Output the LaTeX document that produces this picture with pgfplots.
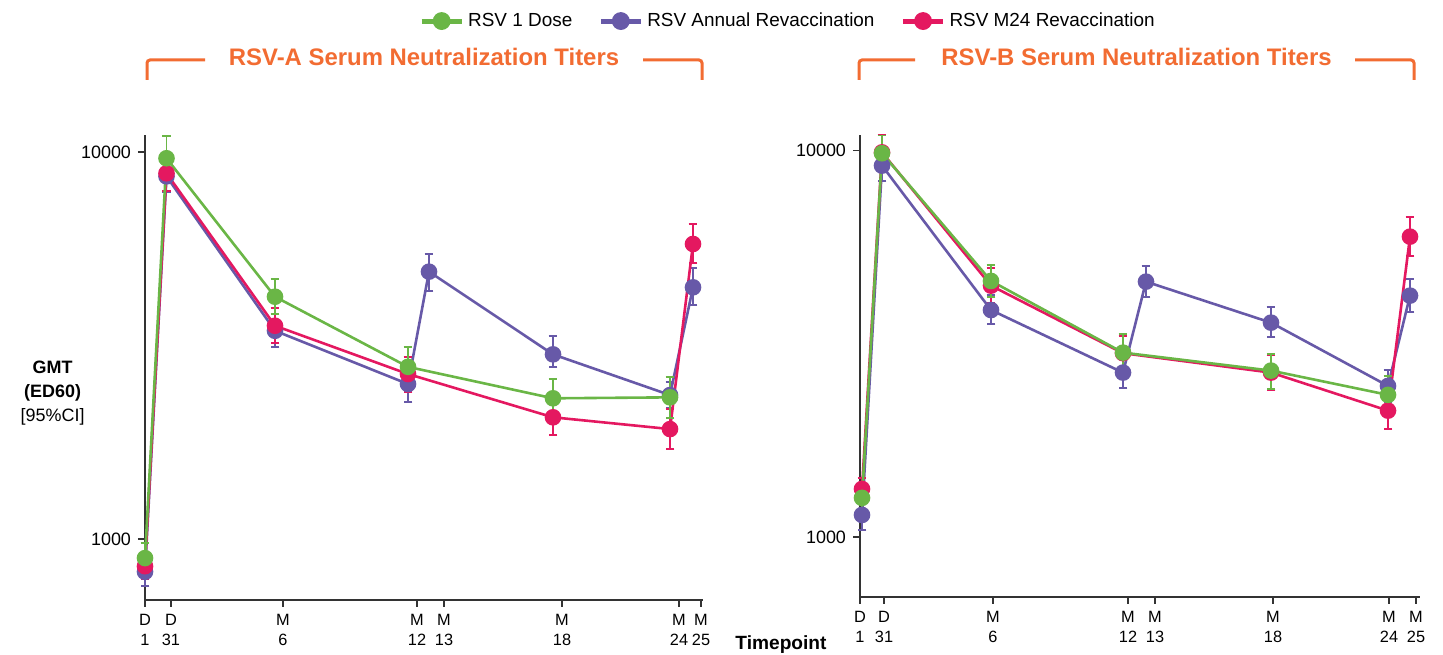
\documentclass[border=0pt]{standalone}
\usepackage{pgfplots}
\usepackage{pgfplotstable}
\pgfplotsset{compat=1.18}
\usepackage{fontspec}
\setmainfont{Liberation Sans}
\definecolor{gr}{HTML}{6AB646}
\definecolor{pu}{HTML}{6759A8}
\definecolor{rd}{HTML}{E41860}
\definecolor{orng}{HTML}{F26C32}
\definecolor{axc}{HTML}{333333}

\pgfplotstableread{
x y ep em
0 893 84 86
21.5 9632 1367 1197
130 4227 463 417
263 2785 343 305
408 2310 281 250
525 2323 304 268
}\lgreen
\pgfplotstableread{
x y ep em
0 823 73 67
21.5 8650 850 750
130 3452 358 324
263 2515 279 251
284 4906 545 525
408 3000 346 220
525 2355 190 175
548 4470 536 446
}\lpurple
\pgfplotstableread{
x y ep em
0 851 66 61
21.5 8810 980 884
130 3557 388 341
263 2669 289 276
408 2063 227 206
525 1924 246 218
548 5785 731 628
}\lred
\pgfplotstableread{
x y ep em
2 1262 88 82
22 9847 1093 987
131 4599 460 419
263 3000 354 320
411 2695 277 283
528 2332 279 252
}\rgreen
\pgfplotstableread{
x y ep em
2 1140 107 98
22 9146 854 784
131 3868 359 315
263 2663 249 228
286 4580 450 406
411 3587 345 298
528 2460 246 224
550 4214 431 384
}\rpurple
\pgfplotstableread{
x y ep em
2 1331 89 81
22 9900 1060 950
131 4472 490 430
263 2990 321 290
411 2663 287 261
528 2123 249 223
550 5989 733 650
}\rred

\begin{document}
\begin{tikzpicture}
\path[use as bounding box] (0,0) rectangle (721.5bp,327.5bp);

\begin{axis}[at={(72.5bp,27.5bp)}, anchor=south west,
  scale only axis, width=279bp, height=232.5bp,
  ymode=log, xmin=0, xmax=558, ymin=696, ymax=11063,
  axis x line=bottom, axis y line=left, axis line style={-, draw=axc, line width=0.8bp},
  ytick={1000,10000}, yticklabels={1000,10000}, minor tick length=0pt,
  major tick style={draw=axc, line width=0.8bp}, tick align=outside, major tick length=3.5bp,
  yticklabel style={font=\fontsize{9}{10}\selectfont},
  xticklabel style={font=\fontsize{8.2}{10.2}\selectfont, align=center},
  xtick={0,26,138,272,299,417,534,556},
  xticklabels={{D\\1},{D\\31},{M\\6},{M\\12},{M\\13},{M\\18},{M\\24},{M\\25}},
  clip=false,
  legend columns=3,
  legend image code/.code={\draw[mark repeat=2,mark phase=2,#1] plot coordinates {(0bp,0bp) (10bp,0bp) (20bp,0bp)};},
  legend style={at={(1.154,1.245)}, anchor=center, draw=none, fill=none,
    font=\fontsize{9.5}{11}\selectfont,
    /tikz/every even column/.append style={column sep=11bp}},
]
\addplot[color=pu, line width=1.3bp, mark=*, mark size=3.5bp, forget plot,
  error bars/.cd, y dir=both, y explicit,
  error bar style={line width=0.9bp}, error mark options={rotate=90,mark size=2.2bp,line width=0.9bp}]
  table[x=x,y=y,y error plus=ep,y error minus=em] {\lpurple};
\addplot[color=rd, line width=1.3bp, mark=*, mark size=3.5bp, forget plot,
  error bars/.cd, y dir=both, y explicit,
  error bar style={line width=0.9bp}, error mark options={rotate=90,mark size=2.2bp,line width=0.9bp}]
  table[x=x,y=y,y error plus=ep,y error minus=em] {\lred};
\addplot[color=gr, line width=1.3bp, mark=*, mark size=3.5bp, forget plot,
  error bars/.cd, y dir=both, y explicit,
  error bar style={line width=0.9bp}, error mark options={rotate=90,mark size=2.2bp,line width=0.9bp}]
  table[x=x,y=y,y error plus=ep,y error minus=em] {\lgreen};
\addlegendimage{color=gr, line width=2.5bp, mark=*, mark size=3.2bp}
\addlegendentry{RSV 1 Dose}
\addlegendimage{color=pu, line width=2.5bp, mark=*, mark size=3.2bp}
\addlegendentry{RSV Annual Revaccination}
\addlegendimage{color=rd, line width=2.5bp, mark=*, mark size=3.2bp}
\addlegendentry{RSV M24 Revaccination}
\end{axis}

\begin{axis}[at={(430bp,29bp)}, anchor=south west,
  scale only axis, width=280bp, height=231bp,
  ymode=log, xmin=0, xmax=560, ymin=699, ymax=10980,
  axis x line=bottom, axis y line=left, axis line style={-, draw=axc, line width=0.8bp},
  ytick={1000,10000}, yticklabels={1000,10000}, minor tick length=0pt,
  major tick style={draw=axc, line width=0.8bp}, tick align=outside, major tick length=3.5bp,
  yticklabel style={font=\fontsize{9}{10}\selectfont},
  xticklabel style={font=\fontsize{8.2}{10.2}\selectfont, align=center},
  xtick={0,24,133,268,295,413,529,556},
  xticklabels={{D\\1},{D\\31},{M\\6},{M\\12},{M\\13},{M\\18},{M\\24},{M\\25}},
  clip=false,
]
\addplot[color=pu, line width=1.3bp, mark=*, mark size=3.5bp,
  error bars/.cd, y dir=both, y explicit,
  error bar style={line width=0.9bp}, error mark options={rotate=90,mark size=2.2bp,line width=0.9bp}]
  table[x=x,y=y,y error plus=ep,y error minus=em] {\rpurple};
\addplot[color=rd, line width=1.3bp, mark=*, mark size=3.5bp,
  error bars/.cd, y dir=both, y explicit,
  error bar style={line width=0.9bp}, error mark options={rotate=90,mark size=2.2bp,line width=0.9bp}]
  table[x=x,y=y,y error plus=ep,y error minus=em] {\rred};
\addplot[color=gr, line width=1.3bp, mark=*, mark size=3.5bp,
  error bars/.cd, y dir=both, y explicit,
  error bar style={line width=0.9bp}, error mark options={rotate=90,mark size=2.2bp,line width=0.9bp}]
  table[x=x,y=y,y error plus=ep,y error minus=em] {\rgreen};
\end{axis}

\node[align=center, font=\fontsize{9}{12}\selectfont] at (26.3bp,131bp)
  {\textbf{GMT}\\\textbf{(ED60)}\\{[}95\%CI{]}};
\node[font=\bfseries\fontsize{9.6}{11}\selectfont] at (390.5bp,5bp) {Timepoint};

\node[font=\bfseries\fontsize{12}{14}\selectfont, text=orng] at (212bp,299bp) {RSV-A Serum Neutralization Titers};
\node[font=\bfseries\fontsize{12}{14}\selectfont, text=orng] at (568.25bp,299bp) {RSV-B Serum Neutralization Titers};
\draw[orng, line width=1.5bp, rounded corners=1.5bp] (73.5bp,287.5bp) -- (73.5bp,297.5bp) -- (102.5bp,297.5bp);
\draw[orng, line width=1.5bp, rounded corners=1.5bp] (321.5bp,297.5bp) -- (351bp,297.5bp) -- (351bp,287.5bp);
\draw[orng, line width=1.5bp, rounded corners=1.5bp] (429.5bp,287.5bp) -- (429.5bp,297.5bp) -- (457.5bp,297.5bp);
\draw[orng, line width=1.5bp, rounded corners=1.5bp] (677.5bp,297.5bp) -- (707bp,297.5bp) -- (707bp,287.5bp);
\end{tikzpicture}
\end{document}
